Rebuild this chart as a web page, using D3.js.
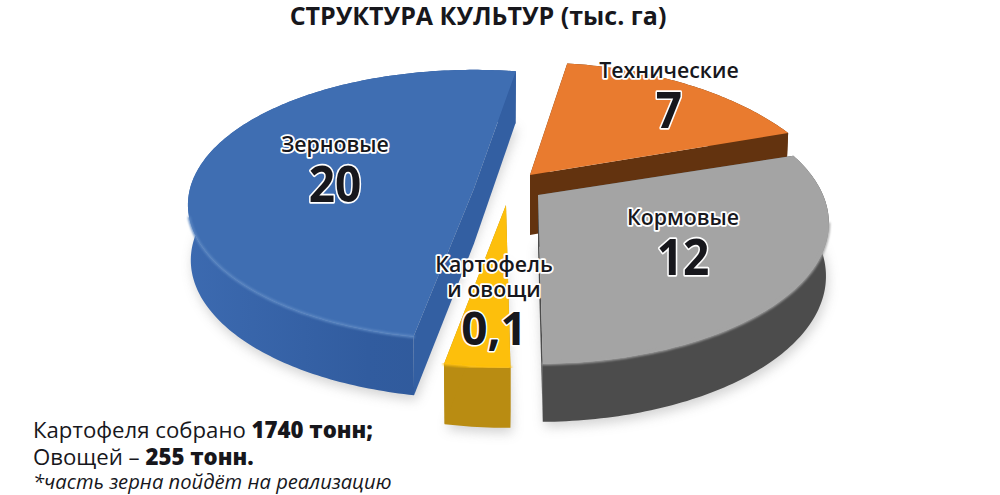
<!DOCTYPE html>
<html><head><meta charset="utf-8">
<script src="https://cdn.jsdelivr.net/npm/d3@7/dist/d3.min.js"></script>
<style>
html,body{margin:0;padding:0;background:#fff}
text{font-family:"Open Sans",sans-serif;fill:#17171c}
.halo{paint-order:stroke;stroke:#fff;stroke-linejoin:round}
</style></head><body><div id="c"></div>
<script>
// Data
const categories = ["Технические", "Кормовые", "Картофель|и овощи", "Зерновые"];
const valueLabels = ["7", "12", "0,1", "20"];        // values as printed on the chart
const sliceSizes = [7, 12, 1.3, 20];                 // slice sizes as drawn (the 0,1 wedge is drawn much wider than its label)
const footnoteLines = [
  [["Картофеля собрано ", 400], ["1740 тонн;", 800]],
  [["Овощей – ", 400], ["255 тонн.", 800]]
];
const footnoteItalic = "*часть зерна пойдёт на реализацию";
const chartTitle = "СТРУКТУРА КУЛЬТУР (тыс. га)";

// Presentation
const sliceStyles = [
  {top:"#e97b2f", wall:"#63330f", rim:"#e97b2f", ax:530, ay:175, rx:299, ry:150, p:.33, depth:60},
  {top:"#a4a4a4", wall:"#4c4c4c", rim:"#a4a4a4", ax:538, ay:195, rx:285, ry:135, p:.2,  depth:52},
  {top:"#fdbf0c", wall:"#b98c12", rim:"#fdbf0c", ax:506, ay:205, rx:265, ry:130, p:.2,  depth:54},
  {top:"#3f6eb2", wall:"#30599c", rim:"#5c87c2", ax:474, ay:188.6, rx:284, ry:133, p:.12, depth:55}
];
const labelPlacement = [
  {x:669, y:78,  vy:128, dy:0,  sy:1.1},
  {x:683, y:225, vy:275, dy:0,  sy:1.1},
  {x:494, y:272, vy:345, dy:25, sy:1},
  {x:335, y:152, vy:202, dy:0,  sy:1.1}
];

const W=1000,H=495;
const svg=d3.select("#c").append("svg").attr("width",W).attr("height",H).style("display","block");
const defs=svg.append("defs");
defs.append("filter").attr("id","soft").attr("x","-20%").attr("y","-20%").attr("width","140%").attr("height","140%")
  .append("feGaussianBlur").attr("stdDeviation",6);
defs.append("filter").attr("id","rim").attr("x","-5%").attr("y","-5%").attr("width","110%").attr("height","110%")
  .append("feGaussianBlur").attr("stdDeviation",1.1);
const bg=defs.append("linearGradient").attr("id","blueWall");
bg.append("stop").attr("offset","0").attr("stop-color","#3c6ab0");
bg.append("stop").attr("offset","0.55").attr("stop-color","#315c9f");
bg.append("stop").attr("offset","1").attr("stop-color","#2f5898");

const pie=d3.pie().sort(null).value(d=>d).startAngle(9.5*Math.PI/180).endAngle((360+9.5)*Math.PI/180);
const arcs=pie(sliceSizes);
const line=d3.line();

function proj(s,theta,r,z){
  const u=r*Math.sin(theta), v=-r*Math.cos(theta), w=1/(1-s.p*v);
  const shrink=z?0.99:1;
  return [s.ax+s.rx*u*w*shrink, s.ay+s.ry*v*w+(z?s.depth*Math.sqrt(w):0)];
}
function arcAngles(a){
  const n=Math.max(4,Math.round((a.endAngle-a.startAngle)*60));
  return d3.range(n+1).map(i=>a.startAngle+(a.endAngle-a.startAngle)*i/n);
}
function arcPts(s,a,z){ return arcAngles(a).map(t=>proj(s,t,1,z)); }

// ground shadow
svg.append("g").attr("filter","url(#soft)").attr("opacity",.38).selectAll("path")
  .data([3,1,2]).join("path")
  .attr("fill","#8a8a8a")
  .attr("d",i=>{const s=sliceStyles[i],a=arcs[i];
    return line(arcPts(s,a,true).map(p=>[p[0]+2,p[1]+5]).concat([proj(s,0,0,true)]))+"Z";});

// paint back to front
const order=[3,0,1,2];
svg.append("g").selectAll("g").data(order).join("g").each(function(i){
  const g=d3.select(this), s=sliceStyles[i], a=arcs[i];
  const topArc=arcPts(s,a,false), botArc=arcPts(s,a,true);
  const A0=proj(s,0,0,false), A1=proj(s,0,0,true);
  const last=topArc.length-1;
  const wallFill = i===3 ? "url(#blueWall)" : s.wall;
  // outer wall
  g.append("path").attr("fill",wallFill).attr("d",line(topArc.concat(botArc.slice().reverse()))+"Z");
  // cut walls
  const cut = i===3 ? "#335fa2" : s.wall;
  g.append("path").attr("fill",cut).attr("d",line([A0,topArc[0],botArc[0],A1])+"Z");
  g.append("path").attr("fill",cut).attr("d",line([A0,topArc[last],botArc[last],A1])+"Z");
  // top face
  g.append("path").attr("fill",s.top).attr("d",line([A0].concat(topArc))+"Z");
  // soft bevel along the part of the curved edge that faces the viewer
  const front=arcAngles(a).filter(t=>Math.cos(t)<-0.2).map(t=>proj(s,t,1,false));
  if(front.length>1)
    g.append("path").attr("fill","none").attr("stroke",s.rim).attr("stroke-width",2.6)
      .attr("stroke-linecap","round").attr("filter","url(#rim)").attr("d",line(front));
});

// Title
svg.append("text").attr("x",478).attr("y",25).attr("text-anchor","middle")
  .attr("font-size",25).attr("font-weight",700).text(chartTitle);

// Slice labels
labelPlacement.forEach((l,i)=>{
  const t=svg.append("g");
  categories[i].split("|").forEach((n,k)=>{
    t.append("text").attr("class","halo").attr("stroke-width",3.5).attr("x",l.x).attr("y",l.y+k*l.dy)
      .attr("text-anchor","middle").attr("font-size",21.3).attr("font-weight",600).text(n);
  });
  t.append("text").attr("class","halo").attr("stroke-width",3)
    .attr("transform",`translate(${l.x},${l.vy}) scale(1,${l.sy})`)
    .attr("text-anchor","middle").attr("font-size",46).attr("font-weight",700).text(valueLabels[i]);
});

// Footnote
footnoteLines.forEach((ln,i)=>{
  const t=svg.append("text").attr("x",33).attr("y",438+i*27).attr("font-size",22.2);
  ln.forEach(d=>t.append("tspan").attr("font-weight",d[1]).text(d[0]));
});
svg.append("text").attr("x",33).attr("y",489).attr("font-size",20.2).attr("font-style","italic").text(footnoteItalic);
</script></body></html>
